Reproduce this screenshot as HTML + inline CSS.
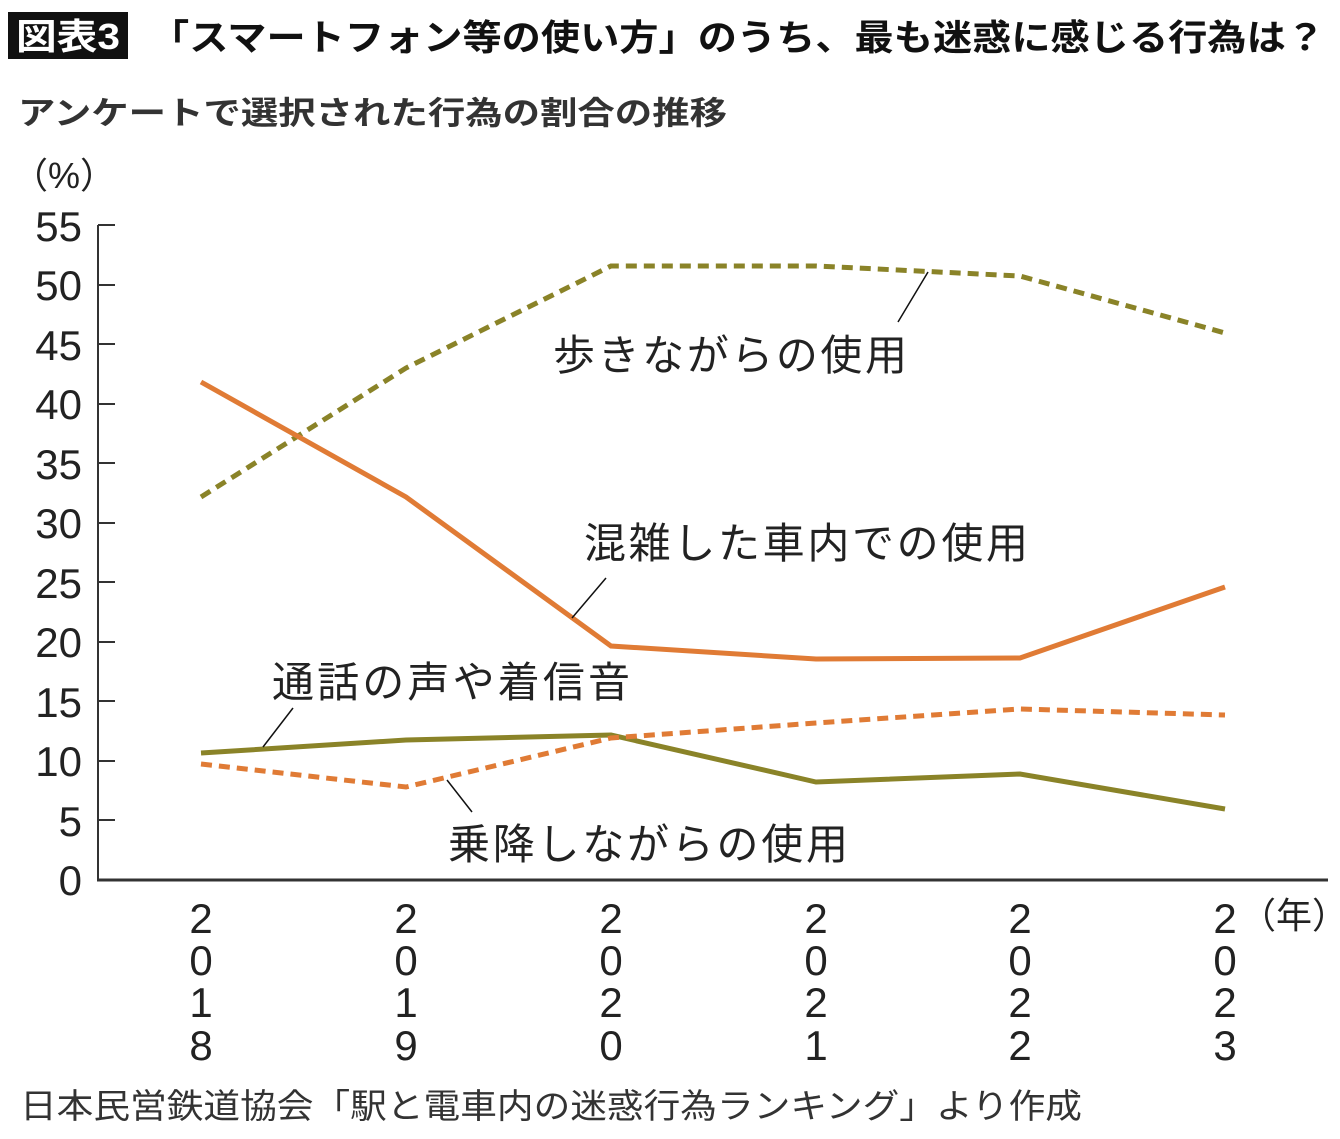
<!DOCTYPE html>
<html><head><meta charset="utf-8"><style>
body{margin:0;background:#fff;width:1340px;height:1139px;overflow:hidden;font-family:"Liberation Sans","Noto Sans CJK JP",sans-serif;}
</style></head><body>
<svg width="1340" height="1139" xmlns="http://www.w3.org/2000/svg" style="position:absolute;left:0;top:0">
<rect x="8" y="12" width="120" height="47" fill="#111"/>
<text x="16" y="49" font-size="36" fill="#fff" font-weight="bold" textLength="104" lengthAdjust="spacingAndGlyphs" font-family="Liberation Sans,Noto Sans CJK JP,sans-serif">図表3</text>
<text x="150" y="50" font-size="36" font-weight="bold" fill="#111" textLength="1175" lengthAdjust="spacingAndGlyphs" font-family="Liberation Sans,Noto Sans CJK JP,sans-serif">「スマートフォン等の使い方」のうち、最も迷惑に感じる行為は？</text>
<text x="18" y="124" font-size="32" font-weight="bold" fill="#333" textLength="709" lengthAdjust="spacingAndGlyphs" font-family="Liberation Sans,Noto Sans CJK JP,sans-serif">アンケートで選択された行為の割合の推移</text>
<text x="12" y="188" font-size="36" fill="#222" font-family="Liberation Sans,Noto Sans CJK JP,sans-serif">（%）</text>
<g font-size="42" fill="#222" text-anchor="end" font-family="Liberation Sans,sans-serif">
<text x="82" y="895">0</text><text x="82" y="836">5</text><text x="82" y="776">10</text><text x="82" y="717">15</text><text x="82" y="657">20</text><text x="82" y="598">25</text><text x="82" y="538">30</text><text x="82" y="479">35</text><text x="82" y="419">40</text><text x="82" y="360">45</text><text x="82" y="300">50</text><text x="82" y="241">55</text>
</g>
<g stroke="#333" stroke-width="2">
<line x1="98" y1="225" x2="98" y2="881"/><line x1="97" y1="880" x2="1328" y2="880" stroke-width="3"/>
<line x1="98" y1="225" x2="115" y2="225"/><line x1="98" y1="285" x2="115" y2="285"/><line x1="98" y1="344" x2="115" y2="344"/><line x1="98" y1="404" x2="115" y2="404"/><line x1="98" y1="463" x2="115" y2="463"/><line x1="98" y1="523" x2="115" y2="523"/><line x1="98" y1="582" x2="115" y2="582"/><line x1="98" y1="642" x2="115" y2="642"/><line x1="98" y1="701" x2="115" y2="701"/><line x1="98" y1="761" x2="115" y2="761"/><line x1="98" y1="820" x2="115" y2="820"/>
</g>
<g font-size="42" fill="#222" text-anchor="middle" font-family="Liberation Sans,sans-serif">
<text x="201" y="933">2</text><text x="201" y="975">0</text><text x="201" y="1017">1</text><text x="201" y="1060">8</text>
<text x="406" y="933">2</text><text x="406" y="975">0</text><text x="406" y="1017">1</text><text x="406" y="1060">9</text>
<text x="611" y="933">2</text><text x="611" y="975">0</text><text x="611" y="1017">2</text><text x="611" y="1060">0</text>
<text x="816" y="933">2</text><text x="816" y="975">0</text><text x="816" y="1017">2</text><text x="816" y="1060">1</text>
<text x="1020" y="933">2</text><text x="1020" y="975">0</text><text x="1020" y="1017">2</text><text x="1020" y="1060">2</text>
<text x="1225" y="933">2</text><text x="1225" y="975">0</text><text x="1225" y="1017">2</text><text x="1225" y="1060">3</text>
</g>
<text x="1240" y="928" font-size="36" fill="#222" font-family="Liberation Sans,Noto Sans CJK JP,sans-serif">（年）</text>
<g fill="none" stroke-width="5">
<polyline points="201,497 406,368 611,266 816,266 1020,276 1225,333" stroke="#8a8328" stroke-dasharray="11,7"/>
<polyline points="201,382 406,497 611,646 816,659 1020,658 1225,587" stroke="#e07b35"/>
<polyline points="201,753 406,740 611,735 816,782 1020,774 1225,809" stroke="#8a8328"/>
<polyline points="201,764 406,787 611,738 816,723 1020,709 1225,715" stroke="#e07b35" stroke-dasharray="11,7"/>
</g>
<g stroke="#111" stroke-width="1.5">
<line x1="928" y1="272" x2="898" y2="322"/>
<line x1="606" y1="578" x2="572" y2="618"/>
<line x1="293" y1="708" x2="263" y2="747"/>
<line x1="447" y1="780" x2="472" y2="812"/>
</g>
<g font-size="42" fill="#222" font-family="Liberation Sans,Noto Sans CJK JP,sans-serif" lengthAdjust="spacingAndGlyphs">
<text x="553" y="370" textLength="354">歩きながらの使用</text>
<text x="584" y="558" textLength="444">混雑した車内での使用</text>
<text x="272" y="697" textLength="358">通話の声や着信音</text>
<text x="448" y="859" textLength="400">乗降しながらの使用</text>
</g>
<text x="20" y="1118" font-size="34" fill="#333" textLength="1062" lengthAdjust="spacingAndGlyphs" font-family="Liberation Sans,Noto Sans CJK JP,sans-serif">日本民営鉄道協会「駅と電車内の迷惑行為ランキング」より作成</text>
</svg>
</body></html>
